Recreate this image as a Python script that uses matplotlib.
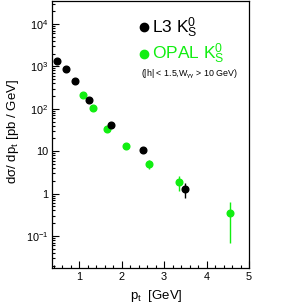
import numpy as np
import matplotlib.pyplot as plt
from matplotlib.ticker import LogLocator, FixedLocator, MultipleLocator, FuncFormatter

plt.rcParams['font.family'] = ['Liberation Sans', 'DejaVu Sans']
plt.rcParams['mathtext.fontset'] = 'custom'
plt.rcParams['mathtext.rm'] = 'Liberation Sans'
plt.rcParams['mathtext.it'] = 'Liberation Sans'

# L3 K0s data
l3_pt = [0.49, 0.695, 0.90, 1.24, 1.744, 2.495, 3.49]
l3_xs = [1370, 850, 460, 158, 42, 10.6, 1.3]
l3_err_lo = [0, 0, 0, 0, 0, 0, 0.5]
l3_err_hi = [0, 0, 0, 0, 0, 0, 0.45]

# OPAL K0s data
opal_pt = [1.087, 1.33, 1.65, 2.10, 2.64, 3.36, 4.54]
opal_xs = [215, 102, 33, 13.2, 4.9, 1.83, 0.35]
opal_err_lo = [0, 0, 0, 0, 1.2, 0.65, 0.28]
opal_err_hi = [0, 0, 0, 0, 1.3, 0.7, 0.28]

green = '#11ee11'

fig = plt.figure(figsize=(2.91, 3.05), dpi=100)
ax = fig.add_axes([0.180, 0.122, 0.676, 0.876])

ax.errorbar(opal_pt, opal_xs, yerr=[opal_err_lo, opal_err_hi], fmt='o',
            color=green, ms=4.8, elinewidth=1, capsize=0, mec=green)
ax.errorbar(l3_pt, l3_xs, yerr=[l3_err_lo, l3_err_hi], fmt='o',
            color='black', ms=4.8, elinewidth=1, capsize=0)

ax.set_yscale('log')
ax.set_xlim(0.37, 5)
ax.set_ylim(10**-1.75, 10**4.55)

ax.xaxis.set_major_locator(FixedLocator([1, 2, 3, 4, 5]))
ax.xaxis.set_minor_locator(MultipleLocator(0.2))
ax.yaxis.set_major_locator(FixedLocator([0.1, 1, 10, 100, 1000, 10000]))
ax.yaxis.set_minor_locator(LogLocator(base=10, subs=np.arange(2, 10)))

ylabels = {0.1: '10$^{-1}$', 1: '1', 10: '10', 100: '10$^{2}$',
           1000: '10$^{3}$', 10000: '10$^{4}$'}
ax.yaxis.set_major_formatter(FuncFormatter(lambda v, p: ylabels.get(round(v, 3), '')))
ax.yaxis.set_minor_formatter(FuncFormatter(lambda v, p: ''))

ax.tick_params(which='both', direction='in', top=False, right=False,
               labelsize=7.8, width=0.8)
ax.tick_params(which='major', length=5, pad=3)
ax.tick_params(which='minor', length=2.5)
for s in ax.spines.values():
    s.set_linewidth(0.9)

ax.set_ylabel(r'd$\sigma$/ dp$_t$ [pb / GeV]', fontsize=9.5)
ax.yaxis.set_label_coords(-0.16, 0.51)
ax.set_xlabel(r'p$_t$  [GeV]', fontsize=9.5)
ax.xaxis.set_label_coords(0.53, -0.075)

# legend
ax.plot([0.465], [0.90], 'o', color='black', ms=6, transform=ax.transAxes, clip_on=False)
ax.text(0.505, 0.90, r'L3 K$_\mathrm{S}^0$', fontsize=12.5, va='center',
        transform=ax.transAxes)
ax.plot([0.465], [0.80], 'o', color=green, ms=6, transform=ax.transAxes, clip_on=False)
ax.text(0.505, 0.80, r'OPAL K$_\mathrm{S}^0$', fontsize=12.5, va='center',
        color=green, transform=ax.transAxes)
ax.text(0.45, 0.725, r'(|h| < 1.5,W$_{\gamma\gamma}$ > 10 GeV)', fontsize=6.4,
        va='center', transform=ax.transAxes)

fig.savefig('out.png', dpi=100)
